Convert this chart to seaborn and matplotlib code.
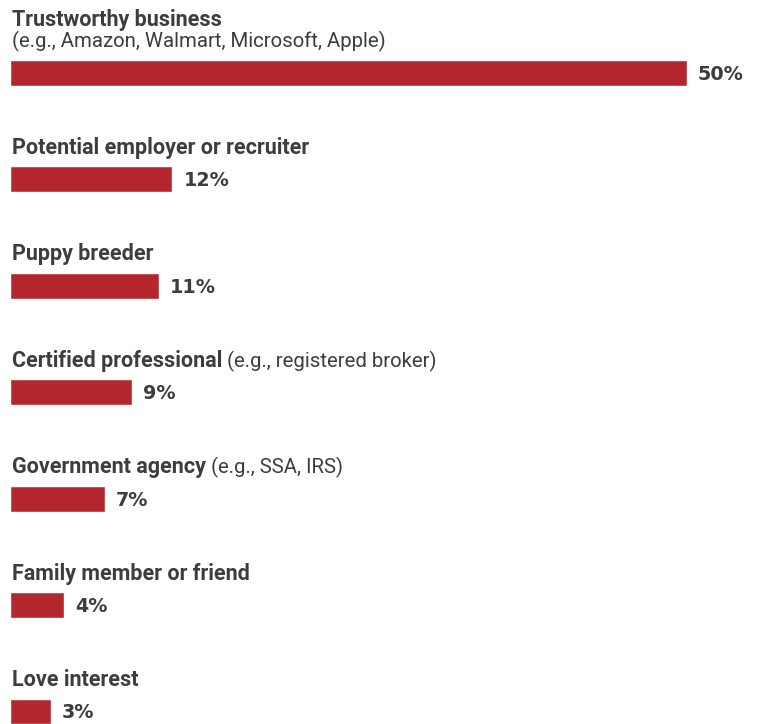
import matplotlib.pyplot as plt
import seaborn as sns
import pandas as pd

# Source types impersonated (share of reports, %)
sources = ["Trustworthy business", "Potential employer or recruiter", "Puppy breeder",
           "Certified professional", "Government agency", "Family member or friend",
           "Love interest"]
notes = ["(e.g., Amazon, Walmart, Microsoft, Apple)", "", "",
         "(e.g., registered broker)", "(e.g., SSA, IRS)", "", ""]
note_on_new_line = [True, False, False, False, False, False, False]
shares = [50, 12, 11, 9, 7, 4, 3]

BAR = "#b5272f"
TEXT = "#3d3d3d"
FONT = ["Roboto", "DejaVu Sans"]

sns.set_theme(style="white")
plt.rcParams["font.family"] = FONT

df = pd.DataFrame({"source": sources, "share": shares})

W, H, DPI = 763, 724, 100
fig = plt.figure(figsize=(W / DPI, H / DPI), dpi=DPI)
ax = fig.add_axes([0, 0, 1, 1])

sns.barplot(data=df, x="share", y="source", orient="h", color=BAR,
            saturation=1, width=0.244, ax=ax)

# scale: 13.54 px per percent, bars start 10 px from left edge
px_per_pct = 677 / 50
ax.set_xlim(-10 / px_per_pct, (W - 10) / px_per_pct)
# rows 106.4 px apart, first bar centre 73 px from top
px_per_row = 106.4
ax.set_ylim(6 + (H - 711.5) / px_per_row, -73 / px_per_row)
ax.axis("off")

pt = 72 / DPI  # points per pixel
fs_note = 14.7
fs_bold = 15.5
fs_pct = 13.8
half = 0.244 / 2

for i, (name, note, newline, val) in enumerate(zip(sources, notes, note_on_new_line, shares)):
    top = i - half
    if note and newline:
        ax.annotate(note, xy=(0, top), xytext=(2 * pt, 13 * pt), textcoords="offset points",
                    ha="left", va="baseline", fontsize=fs_note, color=TEXT)
        ax.annotate(name, xy=(0, top), xytext=(2 * pt, 34 * pt), textcoords="offset points",
                    ha="left", va="baseline", fontsize=fs_bold, fontweight="bold", color=TEXT)
    else:
        t = ax.annotate(name, xy=(0, top), xytext=(2 * pt, 12.5 * pt), textcoords="offset points",
                        ha="left", va="baseline", fontsize=fs_bold, fontweight="bold", color=TEXT)
        if note:
            ax.annotate(" " + note, xy=(1, 0), xycoords=t, ha="left", va="bottom",
                        fontsize=fs_note, color=TEXT)
    ax.annotate(f"{val}%", xy=(val, i), xytext=(11 * pt, -1.5 * pt), textcoords="offset points",
                ha="left", va="center", fontsize=fs_pct, fontweight="bold", color=TEXT,
                family="DejaVu Sans")

fig.savefig("out.png", dpi=DPI)
